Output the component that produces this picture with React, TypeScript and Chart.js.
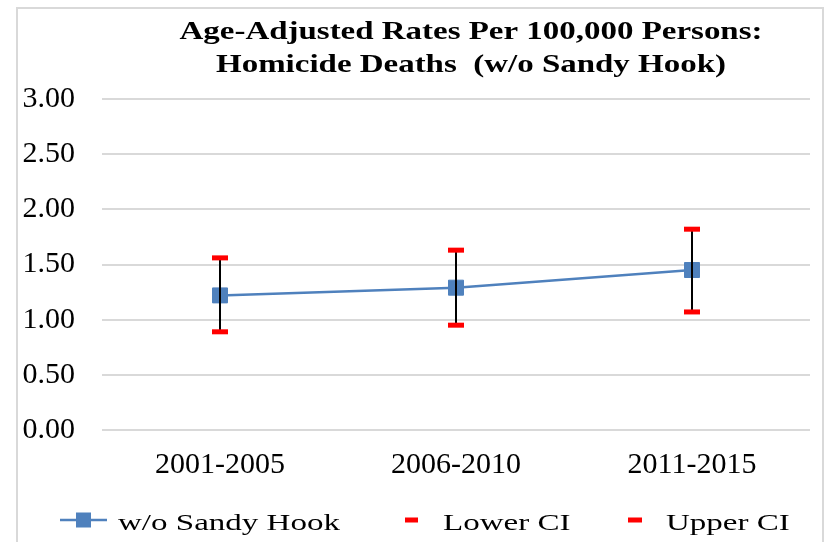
import React, { useEffect, useRef } from 'react';
import { Chart, registerables } from 'chart.js';

Chart.register(...registerables);

const categories = ['2001-2005', '2006-2010', '2011-2015'];
const rates = [1.22, 1.29, 1.45];
const lowerCI = [0.89, 0.95, 1.07];
const upperCI = [1.56, 1.63, 1.82];
const yMin = 0;
const yMax = 3;
const yStep = 0.5;
const titleLines = ['Age-Adjusted Rates Per 100,000 Persons:', 'Homicide Deaths  (w/o Sandy Hook)'];
const seriesNames = ['w/o Sandy Hook', 'Lower CI', 'Upper CI'];

const BLUE = '#4F81BD';
const RED = '#FF0000';
const FONT = '"Liberation Serif", serif';

const errorBarPlugin = {
  id: 'errorBars',
  afterDatasetDraw(chart: any, args: any) {
    if (args.index !== 2) return;
    const { ctx } = chart;
    const x = chart.scales.x;
    const y = chart.scales.y;
    ctx.save();
    ctx.strokeStyle = '#000000';
    ctx.lineWidth = 2;
    categories.forEach((_, i) => {
      const px = x.getPixelForValue(i);
      ctx.beginPath();
      ctx.moveTo(px, y.getPixelForValue(upperCI[i]));
      ctx.lineTo(px, y.getPixelForValue(lowerCI[i]));
      ctx.stroke();
    });
    ctx.restore();
  },
};

function drawStretched(ctx: CanvasRenderingContext2D, text: string, x: number, y: number, sx: number, align: CanvasTextAlign) {
  ctx.save();
  ctx.translate(x, y);
  ctx.scale(sx, 1);
  ctx.textAlign = align;
  ctx.fillText(text, 0, 0);
  ctx.restore();
}

const decorPlugin = {
  id: 'decor',
  afterDraw(chart: any) {
    const { ctx } = chart;
    ctx.save();
    ctx.fillStyle = '#000000';
    ctx.textBaseline = 'alphabetic';

    // Title (wide serif look: stretch horizontally)
    ctx.font = `bold 25px ${FONT}`;
    const tsx = 583 / ctx.measureText(titleLines[0]).width;
    drawStretched(ctx, titleLines[0], 471, 39, tsx, 'center');
    drawStretched(ctx, titleLines[1], 471, 72, tsx, 'center');

    // Legend
    const ly = 520;
    ctx.font = `24px ${FONT}`;
    const lsx = 222 / ctx.measureText(seriesNames[0]).width;
    ctx.strokeStyle = BLUE;
    ctx.lineWidth = 2.5;
    ctx.beginPath();
    ctx.moveTo(60, ly);
    ctx.lineTo(107, ly);
    ctx.stroke();
    ctx.fillStyle = BLUE;
    ctx.fillRect(76, ly - 7.5, 15, 15);
    ctx.fillStyle = '#000000';
    drawStretched(ctx, seriesNames[0], 118, 530, lsx, 'left');

    ctx.fillStyle = RED;
    ctx.fillRect(405, ly - 2.5, 13, 5);
    ctx.fillStyle = '#000000';
    drawStretched(ctx, seriesNames[1], 443, 530, lsx, 'left');

    ctx.fillStyle = RED;
    ctx.fillRect(628, ly - 2.5, 14, 5);
    ctx.fillStyle = '#000000';
    drawStretched(ctx, seriesNames[2], 666, 530, lsx, 'left');
    ctx.restore();
  },
};

export default function App() {
  const canvasRef = useRef<HTMLCanvasElement>(null);

  useEffect(() => {
    const canvas = canvasRef.current;
    if (!canvas) return;
    const chart = new Chart(canvas, {
      type: 'line',
      data: {
        labels: categories,
        datasets: [
          {
            label: seriesNames[1],
            data: lowerCI,
            showLine: false,
            pointStyle: 'line',
            pointRadius: 8,
            pointBorderWidth: 5,
            borderColor: RED,
            backgroundColor: RED,
            pointBorderColor: RED,
            pointBackgroundColor: RED,
          },
          {
            label: seriesNames[2],
            data: upperCI,
            showLine: false,
            pointStyle: 'line',
            pointRadius: 8,
            pointBorderWidth: 5,
            borderColor: RED,
            backgroundColor: RED,
            pointBorderColor: RED,
            pointBackgroundColor: RED,
          },
          {
            label: seriesNames[0],
            data: rates,
            borderColor: BLUE,
            backgroundColor: BLUE,
            borderWidth: 2.5,
            tension: 0,
            pointStyle: 'rect',
            pointRadius: 10.6,
            pointBorderWidth: 1,
            pointBackgroundColor: BLUE,
            pointBorderColor: BLUE,
          },
        ],
      },
      options: {
        animation: false,
        responsive: true,
        maintainAspectRatio: false,
        events: [],
        layout: { padding: { left: 0, right: 14, top: 99, bottom: 46 } },
        plugins: {
          legend: { display: false },
          title: { display: false },
          tooltip: { enabled: false },
        },
        scales: {
          x: {
            offset: true,
            grid: { display: false, drawTicks: false },
            border: { display: false },
            ticks: {
              color: '#000000',
              padding: 17,
              font: { family: FONT, size: 30 },
            },
            afterFit(scale: any) {
              scale.height = 66;
            },
          },
          y: {
            min: yMin,
            max: yMax,
            grid: { color: '#D9D9D9', lineWidth: 2, drawTicks: false },
            border: { display: false },
            ticks: {
              stepSize: yStep,
              color: '#000000',
              padding: 27,
              font: { family: FONT, size: 30 },
              callback: (v: any) => Number(v).toFixed(2),
            },
            afterFit(scale: any) {
              scale.width = 102;
            },
          },
        },
      },
      plugins: [errorBarPlugin, decorPlugin],
    });
    return () => chart.destroy();
  }, []);

  return (
    <div style={{ position: 'absolute', left: 0, top: 0, width: 824, height: 542, background: '#FFFFFF', overflow: 'hidden' }}>
      <div
        style={{
          position: 'absolute',
          left: 16,
          top: 7,
          width: 808,
          height: 600,
          boxSizing: 'border-box',
          borderLeft: '2px solid #D9D9D9',
          borderTop: '2px solid #D9D9D9',
          borderRight: '2px solid #D9D9D9',
        }}
      />
      <canvas ref={canvasRef} style={{ position: 'absolute', left: 0, top: 0 }} />
    </div>
  );
}
